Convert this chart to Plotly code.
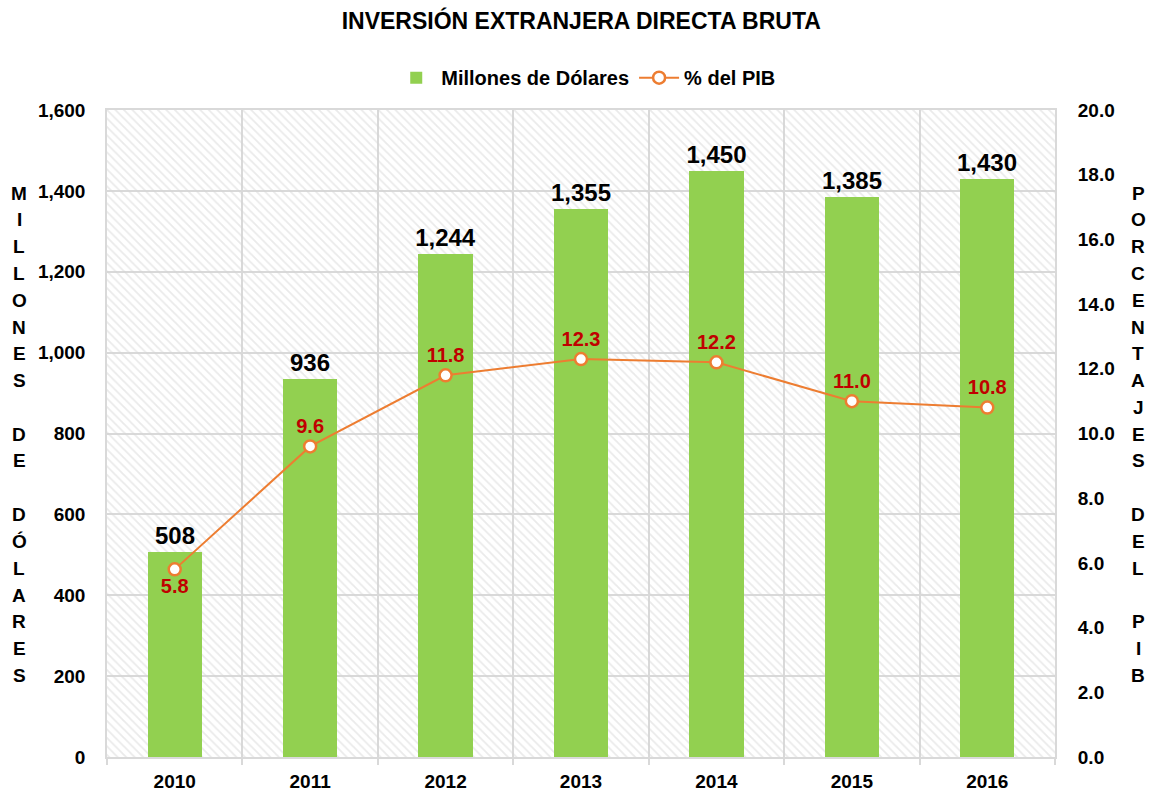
import plotly.graph_objects as go

years = [2010, 2011, 2012, 2013, 2014, 2015, 2016]
millones = [508, 936, 1244, 1355, 1450, 1385, 1430]
pct_pib = [5.8, 9.6, 11.8, 12.3, 12.2, 11.0, 10.8]
left_ticks = [0, 200, 400, 600, 800, 1000, 1200, 1400, 1600]
right_ticks = [0, 2, 4, 6, 8, 10, 12, 14, 16, 18, 20]
left_title = "MILLONES DE DÓLARES"
right_title = "PORCENTAJES DEL PIB"

FONT = "Liberation Sans, Arial, sans-serif"
GRID = "#d9d9d9"

fig = go.Figure()

# hatched plot-area background
fig.add_trace(go.Bar(
    x=[sum(years) / len(years)], y=[max(left_ticks)], width=[len(years)],
    marker=dict(color="rgba(0,0,0,0)", line=dict(width=0),
                pattern=dict(shape="\\", fgcolor="#d6d6d6", bgcolor="rgba(0,0,0,0)",
                             size=6, solidity=0.3)),
    showlegend=False, hoverinfo="skip",
))

fig.add_trace(go.Bar(
    x=years, y=millones, name="Millones de Dólares", width=0.4,
    marker=dict(color="#92d050", line=dict(width=0)),
    text=[f"{v:,}" for v in millones], textposition="outside",
    constraintext="none",
    textfont=dict(family=FONT, size=24, color="black", weight="bold"),
    cliponaxis=False,
))

fig.add_trace(go.Scatter(
    x=years, y=pct_pib, name="% del PIB", yaxis="y2",
    mode="lines+markers+text",
    line=dict(color="#ed7d31", width=2),
    marker=dict(color="white", size=12, line=dict(color="#ed7d31", width=2.5)),
    text=[f"{v:.1f}" for v in pct_pib],
    textposition=["bottom center"] + ["top center"] * (len(years) - 1),
    textfont=dict(family=FONT, size=20, color="#c00000", weight="bold"),
    cliponaxis=False,
))

H = 793
W = 1151
top_m, bot_m = 110, 36
l_m, r_m = 107, 96
ph = H - top_m - bot_m
pw = W - l_m - r_m
ann = []
for title, xpx in ((left_title, 19), (right_title, 1138)):
    for i, ch in enumerate(title):
        if ch == " ":
            continue
        ypx = 193 + i * 26.8
        ann.append(dict(x=(xpx - l_m) / pw, xref="paper", xanchor="center",
                        y=(H - bot_m - ypx) / ph, yref="paper", yanchor="middle",
                        text=ch, showarrow=False,
                        font=dict(family=FONT, size=19, color="black", weight="bold")))

fig.update_layout(
    width=W, height=H,
    margin=dict(l=l_m, r=r_m, t=top_m, b=bot_m, autoexpand=False),
    paper_bgcolor="white", plot_bgcolor="white",
    barmode="overlay",
    title=dict(text="<b>INVERSIÓN EXTRANJERA DIRECTA BRUTA</b>", x=0.505, xanchor="center",
               y=0.973, yanchor="middle", font=dict(family=FONT, size=23, color="black")),
    legend=dict(orientation="h", x=0.505, xanchor="center", y=1.05, yanchor="middle",
                font=dict(family=FONT, size=20, color="black", weight="bold"),
                bgcolor="rgba(0,0,0,0)", traceorder="normal", itemwidth=40),
    xaxis=dict(range=[years[0] - 0.5, years[-1] + 0.5], tickvals=years,
               ticktext=[str(y) for y in years], showgrid=False,
               tickfont=dict(family=FONT, size=19, color="black", weight="bold"),
               showline=True, linecolor=GRID, linewidth=1.5, mirror=True,
               ticks="", ticklabelstandoff=6,
               minor=dict(tickvals=[y - 0.5 for y in years] + [years[-1] + 0.5],
                          showgrid=True, gridcolor=GRID, gridwidth=1.5,
                          ticks="outside", ticklen=6, tickcolor=GRID, tickwidth=1.5),
               zeroline=False),
    yaxis=dict(range=[0, 1600], tickvals=left_ticks, tickformat=",",
               showgrid=True, gridcolor=GRID, gridwidth=1.5,
               tickfont=dict(family=FONT, size=19, color="black", weight="bold"),
               showline=True, linecolor=GRID, linewidth=1.5, mirror=True,
               ticks="outside", ticklen=16, tickcolor="rgba(0,0,0,0)", zeroline=False),
    yaxis2=dict(range=[0, 20], tickvals=right_ticks, tickformat=".1f",
                overlaying="y", side="right", showgrid=False,
                tickfont=dict(family=FONT, size=19, color="black", weight="bold"),
                ticks="outside", ticklen=18, tickcolor="rgba(0,0,0,0)", zeroline=False),
    annotations=ann,
    bargap=0,
)

fig.write_html("out.html", config={"displayModeBar": False},
               post_script="document.body.style.margin='0';")
